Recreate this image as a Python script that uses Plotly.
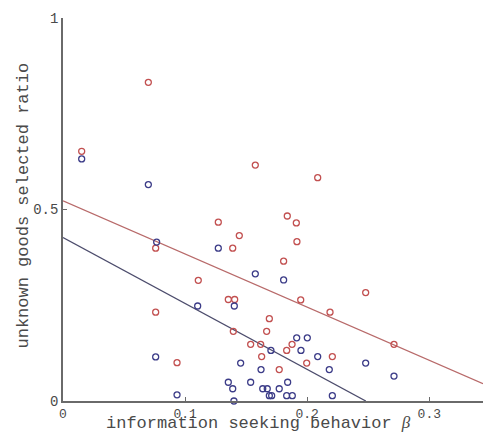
import plotly.graph_objects as go

# Red group (information seeking beta, unknown goods selected ratio)
red_beta = [0.0153, 0.0699, 0.0759, 0.0759, 0.0934, 0.1108, 0.1272, 0.1390, 0.1444, 0.1354,
            0.1406, 0.1395, 0.1537, 0.1575, 0.1619, 0.1627, 0.1668, 0.1690, 0.1771, 0.1807,
            0.1832, 0.1837, 0.1876, 0.1911, 0.1916, 0.1947, 0.1996, 0.2086, 0.2187, 0.2206,
            0.2479, 0.2711]
red_ratio = [0.652, 0.832, 0.399, 0.232, 0.100, 0.315, 0.467, 0.399, 0.432, 0.265,
             0.265, 0.182, 0.148, 0.616, 0.148, 0.116, 0.182, 0.215, 0.082, 0.365,
             0.132, 0.483, 0.148, 0.465, 0.416, 0.264, 0.099, 0.583, 0.232, 0.116,
             0.283, 0.148]

# Blue group
blue_beta = [0.0153, 0.0699, 0.0767, 0.0759, 0.0934, 0.1103, 0.1272, 0.1354, 0.1390, 0.1400,
             0.1403, 0.1455, 0.1537, 0.1575, 0.1622, 0.1636, 0.1673, 0.1690, 0.1709, 0.1703,
             0.1771, 0.1807, 0.1832, 0.1840, 0.1878, 0.1914, 0.1949, 0.2001, 0.2086, 0.2181,
             0.2206, 0.2479, 0.2711]
blue_ratio = [0.632, 0.565, 0.415, 0.115, 0.016, 0.248, 0.399, 0.049, 0.032, 0.000,
              0.248, 0.099, 0.049, 0.332, 0.082, 0.032, 0.032, 0.014, 0.014, 0.132,
              0.032, 0.316, 0.014, 0.049, 0.014, 0.165, 0.132, 0.165, 0.116, 0.082,
              0.014, 0.099, 0.065]

# Fitted line endpoints
red_line_x = [0.0, 0.344]
red_line_y = [0.5225, 0.045]
blue_line_x = [0.0, 0.248]
blue_line_y = [0.427, 0.0]

x_ticks = [0, 0.1, 0.2, 0.3]
x_tick_labels = ["0", "0.1", "0.2", "0.3"]
y_ticks = [0, 0.5, 1]
y_tick_labels = ["0", "0.5", "1"]

RED_M = "#c25050"
RED_L = "#b86a6a"
BLUE_M = "#3c3c88"
BLUE_L = "#4c4c6c"
AX = "#6a6a6a"
TXT = "#4a4a4a"
FONT = "Liberation Mono, Courier New, monospace"

fig = go.Figure()
fig.add_trace(go.Scatter(x=red_line_x, y=red_line_y, mode="lines",
                         line=dict(color=RED_L, width=1.3), showlegend=False))
fig.add_trace(go.Scatter(x=blue_line_x, y=blue_line_y, mode="lines",
                         line=dict(color=BLUE_L, width=1.3), showlegend=False))
fig.add_trace(go.Scatter(x=red_beta, y=red_ratio, mode="markers", cliponaxis=False,
                         marker=dict(symbol="circle-open", size=6, color=RED_M,
                                     line=dict(width=1.3, color=RED_M)),
                         showlegend=False))
fig.add_trace(go.Scatter(x=blue_beta, y=blue_ratio, mode="markers", cliponaxis=False,
                         marker=dict(symbol="circle-open", size=6, color=BLUE_M,
                                     line=dict(width=1.3, color=BLUE_M)),
                         showlegend=False))

fig.update_layout(
    width=483, height=432,
    margin=dict(l=63, r=0, t=18, b=31, autoexpand=False),
    paper_bgcolor="white", plot_bgcolor="white",
    font=dict(family=FONT, color=TXT, size=14),
    xaxis=dict(range=[0, 0.344], tickvals=x_ticks, ticktext=x_tick_labels,
               ticks="inside", ticklen=4, tickcolor=AX, showgrid=False, zeroline=False,
               showline=True, linecolor=AX, linewidth=1.5, automargin=False,
               tickfont=dict(family=FONT, size=13, color=TXT)),
    yaxis=dict(range=[0, 1], tickvals=y_ticks, ticktext=y_tick_labels,
               ticks="inside", ticklen=4, tickcolor=AX, showgrid=False, zeroline=False,
               showline=True, linecolor=AX, linewidth=1.5, automargin=False,
               tickfont=dict(family=FONT, size=14, color=TXT)),
    annotations=[
        dict(text="information seeking behavior <span style='font-family:Liberation Serif'><i>β</i></span>",
             xref="paper", yref="paper", x=(258 - 63) / 420, y=0, xanchor="center",
             yanchor="top", yshift=-10, showarrow=False,
             font=dict(family=FONT, size=17, color=TXT)),
        dict(text="unknown goods selected ratio", textangle=-90,
             xref="paper", yref="paper", x=0, y=(400.5 - 205) / 383, xanchor="center",
             yanchor="middle", xshift=-40, showarrow=False,
             font=dict(family=FONT, size=17, color=TXT)),
    ],
)

fig.write_html("out.html", config={"displayModeBar": False},
               post_script="document.body.style.margin='0px';")
